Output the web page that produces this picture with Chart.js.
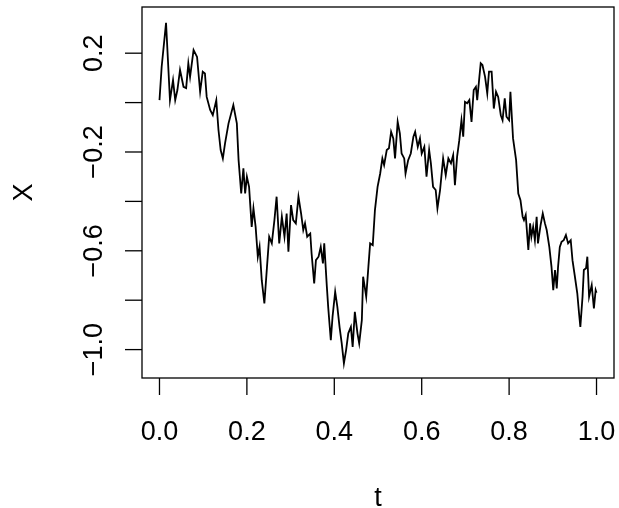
<!DOCTYPE html>
<html>
<head>
<meta charset="utf-8">
<script src="https://cdn.jsdelivr.net/npm/chart.js@4.4.1/dist/chart.umd.min.js"></script>
<style>
  body { margin: 0; background: #fff; }
  #wrap { width: 619px; height: 508px; }
</style>
</head>
<body>
<div id="wrap"><canvas id="bmChart" width="619" height="508"></canvas></div>
<script>
// sample path (time t, value X)
const tValues = [
  0.000, 0.005, 0.015, 0.024, 0.031, 0.036, 0.041, 0.047, 0.055, 0.061,
  0.066, 0.070, 0.078, 0.086, 0.093, 0.099, 0.104, 0.108, 0.116, 0.122,
  0.130, 0.135, 0.140, 0.145, 0.150, 0.158, 0.169, 0.177, 0.181, 0.187,
  0.192, 0.196, 0.200, 0.205, 0.211, 0.215, 0.220, 0.225, 0.229, 0.234,
  0.240, 0.246, 0.251, 0.257, 0.263, 0.268, 0.274, 0.280, 0.286, 0.291,
  0.295, 0.301, 0.306, 0.312, 0.318, 0.324, 0.329, 0.333, 0.338, 0.345,
  0.348, 0.354, 0.358, 0.364, 0.369, 0.374, 0.377, 0.383, 0.386, 0.392,
  0.396, 0.402, 0.407, 0.412, 0.417, 0.422, 0.427, 0.432, 0.438, 0.442,
  0.447, 0.453, 0.457, 0.463, 0.466, 0.473, 0.478, 0.482, 0.488, 0.493,
  0.499, 0.505, 0.510, 0.514, 0.520, 0.525, 0.530, 0.535, 0.539, 0.545,
  0.550, 0.554, 0.560, 0.563, 0.569, 0.575, 0.581, 0.585, 0.591, 0.596,
  0.600, 0.606, 0.611, 0.617, 0.621, 0.626, 0.632, 0.636, 0.642, 0.649,
  0.655, 0.661, 0.667, 0.672, 0.676, 0.681, 0.686, 0.691, 0.695, 0.699,
  0.704, 0.709, 0.714, 0.719, 0.724, 0.727, 0.732, 0.735, 0.739, 0.745,
  0.750, 0.754, 0.760, 0.765, 0.770, 0.775, 0.781, 0.785, 0.790, 0.794,
  0.800, 0.803, 0.809, 0.816, 0.821, 0.826, 0.831, 0.834, 0.838, 0.844,
  0.848, 0.851, 0.855, 0.859, 0.863, 0.866, 0.872, 0.877, 0.882, 0.886,
  0.892, 0.897, 0.901, 0.905, 0.909, 0.912, 0.916, 0.920, 0.925, 0.930,
  0.935, 0.941, 0.945, 0.950, 0.956, 0.960, 0.963, 0.968, 0.971, 0.976,
  0.979, 0.983, 0.989, 0.994, 0.998, 1.000
];
const xValues = [
   0.010,  0.145,  0.323,  0.010,  0.091,  0.010,  0.051,  0.132,  0.064,  0.059,
   0.159,  0.104,  0.213,  0.185,  0.044,  0.125,  0.118,  0.023, -0.030, -0.051,
   0.010, -0.111, -0.192, -0.226, -0.165, -0.084, -0.010, -0.084, -0.233, -0.368,
  -0.266, -0.368, -0.300, -0.341, -0.503, -0.428, -0.503, -0.624, -0.584, -0.719,
  -0.813, -0.665, -0.543, -0.570, -0.476, -0.381, -0.570, -0.462, -0.543, -0.449,
  -0.604, -0.415, -0.476, -0.489, -0.381, -0.449, -0.516, -0.489, -0.543, -0.530,
  -0.610, -0.732, -0.638, -0.624, -0.584, -0.651, -0.570, -0.746, -0.827, -0.962,
  -0.867, -0.766, -0.827, -0.908, -0.975, -1.056, -1.002, -0.934, -0.908, -0.989,
  -0.847, -0.934, -0.975, -0.881, -0.705, -0.786, -0.665, -0.570, -0.577, -0.435,
  -0.341, -0.287, -0.226, -0.253, -0.192, -0.185, -0.118, -0.145, -0.226, -0.078,
  -0.125, -0.206, -0.226, -0.287, -0.233, -0.206, -0.138, -0.118, -0.179, -0.145,
  -0.206, -0.179, -0.300, -0.192, -0.246, -0.341, -0.354, -0.428, -0.354, -0.226,
  -0.294, -0.226, -0.246, -0.213, -0.334, -0.219, -0.152, -0.071, -0.138,  0.003,
  -0.003,  0.010, -0.078,  0.051,  0.064,  0.010,  0.104,  0.159,  0.152,  0.104,
   0.037,  0.125,  0.125, -0.024,  0.044,  0.023, -0.051, -0.071,  0.017, -0.057,
  -0.071,  0.044, -0.145, -0.233, -0.368, -0.395, -0.462, -0.476, -0.455, -0.597,
  -0.489, -0.543, -0.503, -0.557, -0.462, -0.570, -0.496, -0.449, -0.489, -0.516,
  -0.584, -0.665, -0.759, -0.678, -0.752, -0.665, -0.584, -0.564, -0.557, -0.536,
  -0.570, -0.557, -0.638, -0.698, -0.772, -0.853, -0.908, -0.786, -0.678, -0.671,
  -0.624, -0.786, -0.739, -0.833, -0.759, -0.770
];

const xTicks = [0, 0.2, 0.4, 0.6, 0.8, 1.0];
const xTickLabels = ["0.0", "0.2", "0.4", "0.6", "0.8", "1.0"];
const yTicks = [0.2, 0.0, -0.2, -0.4, -0.6, -0.8, -1.0];
const yTickLabels = ["0.2", "", "\u22120.2", "", "\u22120.6", "", "\u22121.0"];

const FONT = '27px "Liberation Sans", Arial, sans-serif';
const TICK_LEN = 17;

// R-style box, ticks and labels drawn over the scales
const rAxes = {
  id: "rAxes",
  afterDraw(chart) {
    const c = chart.ctx;
    const a = chart.chartArea;
    const xs = chart.scales.x;
    const ys = chart.scales.y;
    c.save();
    c.strokeStyle = "#000";
    c.fillStyle = "#000";
    c.lineWidth = 1.3;
    c.strokeRect(a.left, a.top, a.right - a.left, a.bottom - a.top);

    c.font = FONT;
    c.textAlign = "center";
    c.textBaseline = "alphabetic";
    xTicks.forEach((v, i) => {
      const px = xs.getPixelForValue(v);
      c.beginPath();
      c.moveTo(px, a.bottom);
      c.lineTo(px, a.bottom + TICK_LEN);
      c.stroke();
      c.fillText(xTickLabels[i], px, 440);
    });

    yTicks.forEach((v, i) => {
      const py = ys.getPixelForValue(v);
      c.beginPath();
      c.moveTo(a.left, py);
      c.lineTo(a.left - TICK_LEN, py);
      c.stroke();
      if (yTickLabels[i]) {
        c.save();
        c.translate(102, py);
        c.rotate(-Math.PI / 2);
        c.fillText(yTickLabels[i], 0, 0);
        c.restore();
      }
    });

    // axis titles
    c.fillText("t", (a.left + a.right) / 2, 506);
    c.save();
    c.translate(32, (a.top + a.bottom) / 2);
    c.rotate(-Math.PI / 2);
    c.fillText("X", 0, 0);
    c.restore();
    c.restore();
  }
};

const ctx = document.getElementById("bmChart").getContext("2d");
const bmChart = new Chart(ctx, {
  type: "line",
  data: {
    datasets: [
      {
        label: "X",
        data: tValues.map((t, i) => ({ x: t, y: xValues[i] })),
        borderColor: "#000",
        borderWidth: 1.8,
        pointRadius: 0,
        tension: 0,
        fill: false,
      },
    ],
  },
  options: {
    responsive: false,
    animation: false,
    layout: { padding: { left: 142, right: 5, top: 7, bottom: 130 } },
    plugins: { legend: { display: false }, tooltip: { enabled: false } },
    scales: {
      x: { type: "linear", min: -0.04, max: 1.04, display: false },
      y: { type: "linear", min: -1.115, max: 0.387, display: false },
    },
  },
  plugins: [rAxes],
});
</script>
</body>
</html>
